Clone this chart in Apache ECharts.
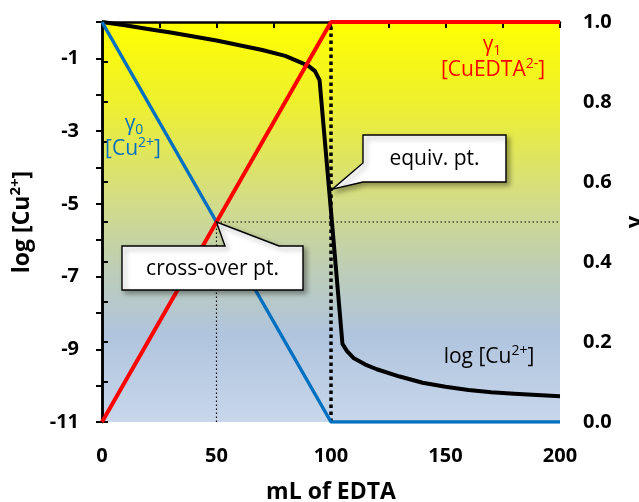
<!DOCTYPE html>
<html>
<head>
<meta charset="utf-8">
<script src="https://cdn.jsdelivr.net/npm/echarts@6/dist/echarts.min.js"></script>
<style>
  html, body { margin: 0; background: #fff; }
  #main { width: 639px; height: 502px; }
</style>
</head>
<body>
<div id="main"></div>
<script>
// titration of Cu2+ with EDTA
const volume = [0, 10, 20, 30, 40, 50, 60, 70, 80, 90, 93, 95, 100, 105, 107, 110, 115, 120, 130, 140, 150, 160, 170, 180, 190, 200];
const logCu = [0, -0.09, -0.19, -0.29, -0.40, -0.51, -0.64, -0.77, -0.93, -1.2, -1.35, -1.6, -5.2, -8.85, -9.05, -9.25, -9.42, -9.55, -9.75, -9.92, -10.03, -10.12, -10.18, -10.22, -10.26, -10.29];

// fractions
const gammaVol = [0, 100, 200];
const gamma0 = [1, 0, 0];
const gamma1 = [0, 1, 1];

// reference lines
const crossOver = [50, 0.5];
const equivVol = 100;

const font = '"Open Sans", Lato, sans-serif';
const blue = '#0070c0';
const red = '#ff0000';

const myChart = echarts.init(document.getElementById('main'));

function pairs(xs, ys) {
  return xs.map((x, i) => [x, ys[i]]);
}

// rich styles for superscripts / subscripts
function richStyles(size, color, bold) {
  const w = bold ? 'bold' : 'normal';
  return {
    n: { fontFamily: font, fontSize: size, fontWeight: w, color: color, fill: color, lineHeight: size * 1.2 },
    sup: { fontFamily: font, fontSize: Math.round(size * 0.66), fontWeight: w, color: color, fill: color, verticalAlign: 'top' },
    sub: { fontFamily: font, fontSize: Math.round(size * 0.66), fontWeight: w, color: color, fill: color, verticalAlign: 'bottom' }
  };
}

let option = {
  animation: false,
  grid: {
    left: 102, right: 79, top: 22, bottom: 80,
    outerBoundsMode: 'none',
    containLabel: false,
    show: true,
    borderWidth: 0,
    backgroundColor: new echarts.graphic.LinearGradient(0, 0, 0, 1, [
      { offset: 0, color: '#ffff00' },
      { offset: 0.2, color: '#eef02e' },
      { offset: 0.45, color: '#d3dc88' },
      { offset: 0.62, color: '#bdcdb6' },
      { offset: 0.78, color: '#b0c4de' },
      { offset: 1, color: '#c8d7ea' }
    ])
  },
  xAxis: {
    type: 'value',
    min: 0, max: 200, interval: 25,
    name: 'mL of EDTA',
    nameLocation: 'middle',
    nameGap: 59,
    nameTextStyle: { fontFamily: font, fontWeight: 'bold', fontSize: 23, color: '#000' },
    splitLine: { show: false },
    axisLine: { lineStyle: { color: '#000', width: 2.5 } },
    axisTick: { length: 6, lineStyle: { color: '#000', width: 2 } },
    axisLabel: {
      margin: 24,
      fontFamily: font, fontWeight: 'bold', fontSize: 20, color: '#000',
      formatter: v => (v % 50 === 0 ? v : '')
    }
  },
  yAxis: [
    {
      type: 'value',
      min: -11, max: 0, interval: 1,
      name: '{n|log [Cu}{sup|2+}{n|]}',
      nameLocation: 'middle',
      nameGap: 66,
      nameTextStyle: { rich: richStyles(23, '#000', true) },
      splitLine: { show: false },
      axisLine: { onZero: false, lineStyle: { color: '#000', width: 2.5 } },
      axisTick: { length: 6, lineStyle: { color: '#000', width: 2 } },
      axisLabel: {
        margin: 23,
        fontFamily: font, fontWeight: 'bold', fontSize: 20, color: '#000',
        formatter: v => (v % 2 !== 0 ? v : '')
      }
    },
    {
      type: 'value',
      min: 0, max: 1, interval: 0.1,
      name: 'γ',
      nameLocation: 'middle',
      nameGap: 64,
      nameRotate: 90,
      nameTextStyle: { fontFamily: font, fontWeight: 'bold', fontSize: 22, color: '#000' },
      splitLine: { show: false },
      axisLine: { lineStyle: { color: '#000', width: 2.5 } },
      axisTick: { length: 6, lineStyle: { color: '#000', width: 2 } },
      axisLabel: {
        margin: 23,
        fontFamily: font, fontWeight: 'bold', fontSize: 20, color: '#000',
        formatter: v => (Math.round(v * 10) % 2 === 0 ? v.toFixed(1) : '')
      }
    }
  ],
  series: [
    {
      name: 'equiv',
      type: 'line',
      yAxisIndex: 1,
      symbol: 'none',
      data: [[equivVol, 0], [equivVol, 1]],
      lineStyle: { color: '#000', width: 3.5, type: [3.5, 3.5] },
      z: 3
    },
    {
      name: 'cross',
      type: 'line',
      yAxisIndex: 1,
      symbol: 'none',
      data: [[crossOver[0], 0], crossOver, [200, crossOver[1]]],
      lineStyle: { color: '#000', width: 1.2, type: [1.5, 2.5] },
      z: 3
    },
    {
      name: 'log [Cu2+]',
      type: 'line',
      symbol: 'none',
      data: pairs(volume, logCu),
      lineStyle: { color: '#000', width: 4, join: 'round' },
      z: 4
    },
    {
      name: 'γ0',
      type: 'line',
      yAxisIndex: 1,
      symbol: 'none',
      data: pairs(gammaVol, gamma0),
      lineStyle: { color: blue, width: 3.5 },
      z: 5
    },
    {
      name: 'γ1',
      type: 'line',
      yAxisIndex: 1,
      symbol: 'none',
      data: pairs(gammaVol, gamma1),
      lineStyle: { color: red, width: 4 },
      z: 6
    }
  ]
};
myChart.setOption(option);

// callouts (box + pointer), tip placed from data coordinates
function callout(box, tip, side, base, text) {
  const [x0, y0, x1, y1] = box;
  let pts;
  if (side === 'top') {
    pts = [[x0, y0], [base[0], y0], tip, [base[1], y0], [x1, y0], [x1, y1], [x0, y1]];
  } else {
    pts = [[x0, y0], [x1, y0], [x1, y1], [x0, y1], [x0, base[1]], tip, [x0, base[0]]];
  }
  return [
    {
      type: 'polygon',
      shape: { points: pts },
      style: {
        fill: '#fff', stroke: '#000', lineWidth: 1.4,
        shadowBlur: 5, shadowOffsetX: 3, shadowOffsetY: 3, shadowColor: 'rgba(0,0,0,0.35)'
      },
      z: 100
    },
    {
      type: 'text',
      x: (x0 + x1) / 2, y: (y0 + y1) / 2 + 1,
      style: { text: text, fontFamily: font, fontSize: 21, fill: '#000', align: 'center', verticalAlign: 'middle' },
      z: 101
    }
  ];
}

const crossTip = myChart.convertToPixel({ xAxisIndex: 0, yAxisIndex: 1 }, crossOver);
const equivTip = myChart.convertToPixel({ xAxisIndex: 0, yAxisIndex: 0 }, [equivVol + 0.6, -4.6]);

function richLabel(x, y, text, color, size, align) {
  return {
    type: 'text', x: x, y: y, z: 50,
    style: { text: text, rich: richStyles(size, color, false), align: align || 'center', verticalAlign: 'middle' }
  };
}

myChart.setOption({
  graphic: [
    ...callout([122, 246, 303, 290], crossTip, 'top', [225, 279], 'cross-over pt.'),
    ...callout([363, 135, 506, 182], equivTip, 'left', [163, 182], 'equiv. pt.'),
    richLabel(134, 124, '{n|γ}{sub|0}', blue, 21),
    richLabel(133, 149, '{n|[Cu}{sup|2+}{n|]}', blue, 21),
    richLabel(492, 45, '{n|γ}{sub|1}', red, 21),
    richLabel(493, 70, '{n|[CuEDTA}{sup|2-}{n|]}', red, 21),
    richLabel(489, 357, '{n|log [Cu}{sup|2+}{n|]}', '#000', 21)
  ]
});
</script>
</body>
</html>
